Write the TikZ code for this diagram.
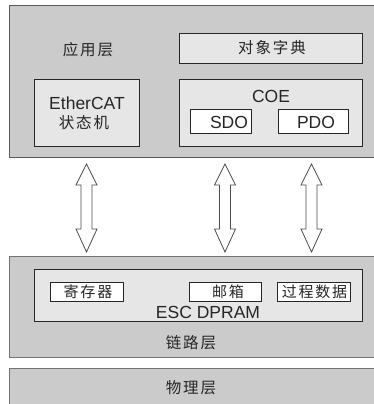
\documentclass[tikz,border=0pt]{standalone}
\usepackage{fontspec}
\setmainfont{Liberation Sans}
\newfontfamily\cjk[LetterSpace=12]{Noto Sans CJK SC}
\usetikzlibrary{calc}
\definecolor{layergray}{HTML}{CBCBCB}
\definecolor{innergray}{HTML}{E6E6E6}
\tikzset{
  layer/.style={draw=black!65, line width=1pt, fill=layergray, inner sep=0pt},
  inbox/.style={draw=black!85, line width=0.8pt, fill=innergray, inner sep=0pt},
  whitebox/.style={draw=black!85, line width=0.8pt, fill=white, inner sep=0pt},
  lbl/.style={inner sep=0pt, text=black!85},
  cjktxt/.style={lbl, font=\cjk\fontsize{15.5}{17}\selectfont},
  cjksmall/.style={lbl, font=\cjk\fontsize{15}{16}\selectfont},
  lattxt/.style={lbl, font=\fontsize{17.5}{19}\selectfont},
  dblarr/.style={draw=black!70, line width=0.8pt, fill=white, line join=miter}
}
\newcommand\hollowdblarrow[2]{%
  \draw[dblarr] let \p1=(#1), \p2=(#2) in
    (\p1) -- (\x1+10.5pt,\y1-21pt) -- (\x1+5.5pt,\y1-21pt) -- (\x1+5.5pt,\y2+23pt)
    -- (\x1+10.5pt,\y2+23pt) -- (\p2) -- (\x1-10.5pt,\y2+23pt) -- (\x1-5.5pt,\y2+23pt)
    -- (\x1-5.5pt,\y1-21pt) -- (\x1-10.5pt,\y1-21pt) -- cycle;}
\begin{document}
\begin{tikzpicture}[x=1pt,y=-1pt]
\useasboundingbox (0,0) rectangle (374,404);
\clip (0,0) rectangle (374,404);
% application layer
\node[layer, minimum width=400pt, minimum height=152pt, anchor=north west] (top) at (8.5,5) {};
\node[cjktxt] (applbl) at (88,50) {应用层};
\node[inbox, minimum width=183pt, minimum height=30pt] (dict) at (270.5,48) {};
\node[cjktxt] (dictlbl) at (272,48) {对象字典};
\node[inbox, minimum width=105pt, minimum height=67pt] (ecat) at (86.5,112.5) {};
\node[lattxt] (ecatlbl) at (87,103) {EtherCAT};
\node[cjktxt] (fsm) at (84,123) {状态机};
\node[inbox, minimum width=183pt, minimum height=67pt] (coe) at (270.5,112.5) {};
\node[lattxt] (coelbl) at (271,96) {COE};
\node[whitebox, minimum width=61pt, minimum height=24pt] (sdo) at (220.5,121) {};
\node[lattxt] (sdolbl) at (229,122) {SDO};
\node[whitebox, minimum width=70pt, minimum height=24pt] (pdo) at (313,121) {};
\node[lattxt] (pdolbl) at (316,122) {PDO};
% link layer
\node[layer, draw=black!55, minimum width=400pt, minimum height=101pt, anchor=north west] (link) at (8.5,255.5) {};
\node[inbox, minimum width=328pt, minimum height=52pt] (dpram) at (198,295) {};
\node[whitebox, minimum width=73pt, minimum height=19pt] (reg) at (86.5,291.5) {};
\node[cjksmall] (reglbl) at (88,291.5) {寄存器};
\node[whitebox, minimum width=72pt, minimum height=19pt] (mail) at (225,291.5) {};
\node[cjksmall] (maillbl) at (228,291.5) {邮箱};
\node[whitebox, minimum width=73pt, minimum height=19pt] (proc) at (313.5,291.5) {};
\node[cjksmall] (proclbl) at (314.5,291.5) {过程数据};
\node[lattxt] (dpramlbl) at (208,312) {ESC DPRAM};
\node[cjktxt] (linklbl) at (191,343) {链路层};
% physical layer
\node[layer, draw=black!55, minimum width=400pt, minimum height=80pt, anchor=north west] (phys) at (8.5,367.5) {};
\node[cjktxt] (physlbl) at (191,388) {物理层};
% arrows
\coordinate (a1t) at ($(top.south -| ecat.center)+(0,6)$);
\coordinate (a1b) at ($(link.north -| ecat.center)+(0,-3.5)$);
\coordinate (a2t) at ($(top.south -| mail.center)+(0,6)$);
\coordinate (a2b) at ($(link.north -| mail.center)+(0,-3.5)$);
\coordinate (a3t) at ($(top.south)+(102.5,6)$);
\coordinate (a3b) at ($(link.north)+(102.5,-3.5)$);
\hollowdblarrow{a1t}{a1b}
\hollowdblarrow{a2t}{a2b}
\hollowdblarrow{a3t}{a3b}
\end{tikzpicture}
\end{document}
